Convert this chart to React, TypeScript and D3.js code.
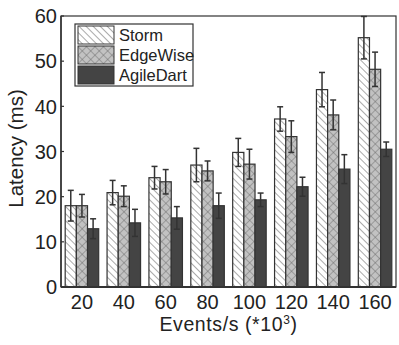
import React from "react";
import * as d3 from "d3";

const categories = ["20", "40", "60", "80", "100", "120", "140", "160"];
const seriesNames = ["Storm", "EdgeWise", "AgileDart"];
const stormValues = [18, 20.9, 24.2, 27, 29.8, 37.2, 43.7, 55.2];
const stormErrors = [3.4, 2.7, 2.5, 3.7, 3.1, 2.7, 3.8, 4.7];
const edgeValues = [18, 20.1, 23.3, 25.7, 27.2, 33.3, 38.1, 48.2];
const edgeErrors = [2.5, 2.3, 2.7, 2.2, 3.3, 3.5, 3.3, 3.8];
const agileValues = [12.9, 14.2, 15.3, 18, 19.3, 22.2, 26.1, 30.5];
const agileErrors = [2.2, 3, 2.5, 2.8, 1.5, 2.1, 3.2, 1.6];
const yTicks = [0, 10, 20, 30, 40, 50, 60];

const W = 399;
const H = 345;
const margin = { top: 16, right: 3, bottom: 58, left: 61 };
const innerW = W - margin.left - margin.right;
const innerH = H - margin.top - margin.bottom;

const fills = ["url(#hatchStorm)", "url(#hatchEdge)", "#444444"];
const font = "'Liberation Sans', Arial, sans-serif";

export default function App() {
  const series = [
    { values: stormValues, errors: stormErrors },
    { values: edgeValues, errors: edgeErrors },
    { values: agileValues, errors: agileErrors },
  ];

  const x0 = d3
    .scaleBand()
    .domain(categories)
    .range([0, innerW])
    .paddingInner(0.2)
    .paddingOuter(0.1);
  const x1 = d3
    .scaleBand()
    .domain(seriesNames)
    .range([0, x0.bandwidth()])
    .padding(0);
  const y = d3.scaleLinear().domain([0, 60]).range([innerH, 0]);

  return (
    <svg
      width={W}
      height={H}
      style={{ position: "absolute", left: 0, top: 0, background: "#fff" }}
      fontFamily={font}
    >
      <defs>
        <pattern
          id="hatchStorm"
          patternUnits="userSpaceOnUse"
          width={5}
          height={5}
          patternTransform="rotate(-45)"
        >
          <rect width={5} height={5} fill="#fff" />
          <line x1={0} y1={0} x2={0} y2={5} stroke="#555" strokeWidth={1} />
        </pattern>
        <pattern
          id="hatchEdge"
          patternUnits="userSpaceOnUse"
          width={6}
          height={6}
          patternTransform="rotate(45)"
        >
          <rect width={6} height={6} fill="#c2c2c2" />
          <line x1={0} y1={0} x2={0} y2={6} stroke="#666" strokeWidth={0.9} />
          <line x1={0} y1={0} x2={6} y2={0} stroke="#666" strokeWidth={0.9} />
        </pattern>
      </defs>
      <g transform={`translate(${margin.left},${margin.top})`}>
        {/* bars */}
        {categories.map((c, i) => (
          <g key={c} transform={`translate(${x0(c)},0)`}>
            {series.map((s, j) => {
              const bx = x1(seriesNames[j]) as number;
              const bw = x1.bandwidth();
              const v = s.values[i];
              const e = s.errors[i];
              const cx = bx + bw / 2;
              return (
                <g key={j}>
                  <rect
                    x={bx}
                    y={y(v)}
                    width={bw}
                    height={innerH - y(v)}
                    fill={fills[j]}
                    stroke="#333"
                    strokeWidth={1.2}
                  />
                  <line x1={cx} x2={cx} y1={y(v + e)} y2={y(v - e)} stroke="#333" strokeWidth={1.5} />
                  <line x1={cx - 3} x2={cx + 3} y1={y(v + e)} y2={y(v + e)} stroke="#333" strokeWidth={1.5} />
                  <line x1={cx - 3} x2={cx + 3} y1={y(v - e)} y2={y(v - e)} stroke="#333" strokeWidth={1.5} />
                </g>
              );
            })}
          </g>
        ))}

        {/* frame */}
        <rect x={0} y={0} width={innerW} height={innerH} fill="none" stroke="#333" strokeWidth={1.2} />
        <line x1={0} x2={innerW} y1={innerH} y2={innerH} stroke="#333" strokeWidth={2} />
        <line x1={0} x2={0} y1={0} y2={innerH} stroke="#333" strokeWidth={1.5} />

        {/* y ticks */}
        {yTicks.map((t) => (
          <g key={t} transform={`translate(0,${y(t)})`}>
            <line x1={0} x2={3} stroke="#333" strokeWidth={1.2} />
            <text x={-4} dy="0.36em" textAnchor="end" fontSize={20} fill="#222">
              {t}
            </text>
          </g>
        ))}

        {/* x labels */}
        {categories.map((c) => (
          <text
            key={c}
            x={(x0(c) as number) + x0.bandwidth() / 2}
            y={innerH + 22}
            textAnchor="middle"
            fontSize={20}
            fill="#222"
          >
            {c}
          </text>
        ))}

        {/* axis titles */}
        <text
          x={innerW / 2}
          y={innerH + 44}
          textAnchor="middle"
          fontSize={19.5}
          fill="#222"
          letterSpacing={0.6}
        >
          Events/s (*10
          <tspan dy={-7} fontSize={12}>3</tspan>
          <tspan dy={7}>)</tspan>
        </text>
        <text
          transform={`translate(${-38},${innerH / 2 - 3}) rotate(-90)`}
          textAnchor="middle"
          fontSize={20.5}
          fill="#222"
        >
          Latency (ms)
        </text>

        {/* legend */}
        <g transform="translate(14,8)">
          <rect x={0} y={0} width={118} height={62} fill="#fff" stroke="#333" strokeWidth={1.2} />
          {seriesNames.map((n, j) => (
            <g key={n} transform={`translate(3,${2 + j * 20})`}>
              <rect x={0} y={0} width={36} height={18} fill={fills[j]} stroke="#333" strokeWidth={1} />
              <text x={41} y={9} dy="0.36em" fontSize={16.5} fill="#222">
                {n}
              </text>
            </g>
          ))}
        </g>
      </g>
    </svg>
  );
}
